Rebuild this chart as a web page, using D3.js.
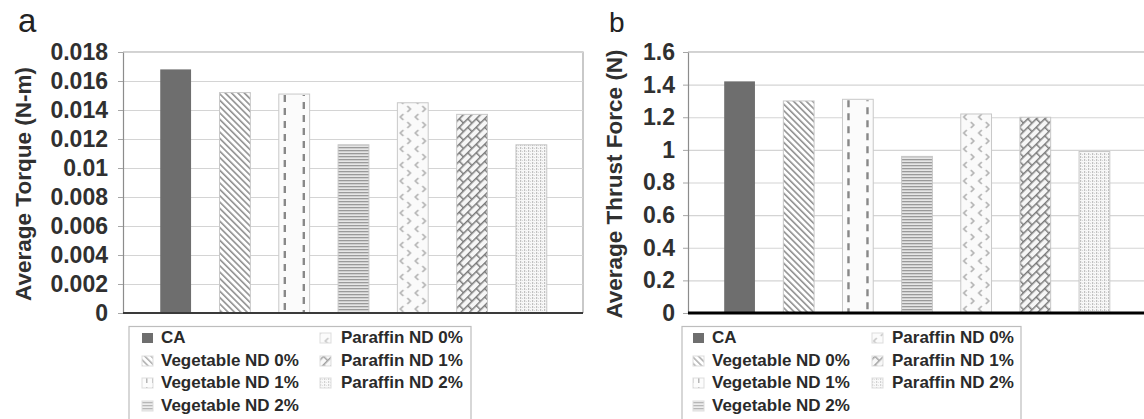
<!DOCTYPE html>
<html>
<head>
<meta charset="utf-8">
<script src="https://cdn.jsdelivr.net/npm/d3@7"></script>
<style>
  body { margin: 0; background: #fff; }
  text { font-family: "Liberation Sans", Arial, sans-serif; }
</style>
</head>
<body>
<div id="chart"></div>
<script>
// ---------------------- data ----------------------
var categories = ["CA", "Vegetable ND 0%", "Vegetable ND 1%", "Vegetable ND 2%",
                  "Paraffin ND 0%", "Paraffin ND 1%", "Paraffin ND 2%"];
var torque = [0.0168, 0.0152, 0.0151, 0.0116, 0.0145, 0.0137, 0.0116];
var thrust = [1.42, 1.30, 1.31, 0.96, 1.22, 1.20, 0.99];
var torqueTicks = [0, 0.002, 0.004, 0.006, 0.008, 0.01, 0.012, 0.014, 0.016, 0.018];
var thrustTicks = [0, 0.2, 0.4, 0.6, 0.8, 1, 1.2, 1.4, 1.6];

var svg = d3.select("#chart")
     .append("svg")
     .attr("width", 1144)
     .attr("height", 419);

var defs = svg.append("defs");

// ---------------------- fill patterns, one set per panel ----------------------
function makePatterns(id, x) {
  var p;
  // 1 diagonal lines
  p = defs.append("pattern").attr("id", id + "p1").attr("patternUnits", "userSpaceOnUse")
     .attr("width", 4.5).attr("height", 4.5).attr("patternTransform", "rotate(45)");
  p.append("rect").attr("width", 4.5).attr("height", 4.5).attr("fill", "#fff");
  p.append("line").attr("x1", 0).attr("x2", 4.5).attr("y1", 1).attr("y2", 1)
     .attr("stroke", "#808080").attr("stroke-width", 1.4);
  // 2 dashes (legend swatch only; bars get dashed lines drawn on top)
  p = defs.append("pattern").attr("id", id + "p2").attr("patternUnits", "userSpaceOnUse")
     .attr("width", 6).attr("height", 9);
  p.append("rect").attr("width", 6).attr("height", 9).attr("fill", "#fbfbfb");
  p.append("rect").attr("x", 2).attr("y", 0).attr("width", 1.5).attr("height", 5).attr("fill", "#9a9a9a");
  // 3 horizontal lines
  p = defs.append("pattern").attr("id", id + "p3").attr("patternUnits", "userSpaceOnUse")
     .attr("width", 6).attr("height", 3);
  p.append("rect").attr("width", 6).attr("height", 3).attr("fill", "#e6e6e6");
  p.append("rect").attr("y", 0).attr("width", 6).attr("height", 1.3).attr("fill", "#9a9a9a");
  // 4 chevrons
  p = defs.append("pattern").attr("id", id + "p4").attr("patternUnits", "userSpaceOnUse")
     .attr("x", x(4)).attr("width", 15).attr("height", 16);
  p.append("rect").attr("width", 15).attr("height", 16).attr("fill", "#fafafa");
  p.append("path").attr("d", "M6,2 L3,5 L6,8 M10,10 L13,13 L10,16 M10,-6 L13,-3 L10,0")
     .attr("fill", "none").attr("stroke", "#b0b0b0").attr("stroke-width", 1.6);
  // 5 diagonal brick / weave
  p = defs.append("pattern").attr("id", id + "p5").attr("patternUnits", "userSpaceOnUse")
     .attr("width", 12).attr("height", 12).attr("patternTransform", "rotate(-45)");
  p.append("rect").attr("width", 12).attr("height", 12).attr("fill", "#f6f6f6");
  p.append("path").attr("d", "M0,0.7 H12 M0,6.7 H12 M0.7,0.7 V6.7 M6.7,6.7 V12")
     .attr("fill", "none").attr("stroke", "#7a7a7a").attr("stroke-width", 1.5);
  // 6 dotted grid
  p = defs.append("pattern").attr("id", id + "p6").attr("patternUnits", "userSpaceOnUse")
     .attr("width", 4).attr("height", 3);
  p.append("rect").attr("width", 4).attr("height", 3).attr("fill", "#f7f7f7");
  p.append("rect").attr("x", 0).attr("y", 0).attr("width", 1.2).attr("height", 2).attr("fill", "#c0c0c0");
  p.append("rect").attr("x", 2).attr("y", 1).attr("width", 1).attr("height", 1).attr("fill", "#d6d6d6");

  return ["#6e6e6e", "url(#" + id + "p1)", "url(#" + id + "p2)", "url(#" + id + "p3)",
          "url(#" + id + "p4)", "url(#" + id + "p5)", "url(#" + id + "p6)"];
}

// ---------------------- one panel ----------------------
function drawPanel(o) {
  var g = svg.append("g");

  var y = d3.scaleLinear().domain([0, o.max]).range([313, 52]);
  var x = d3.scaleBand().domain(categories).range(o.band).paddingInner(0.48).paddingOuter(0.24);
  var fills = makePatterns(o.id, function(i) { return x(categories[i]); });

  // frame (top and right)
  g.append("path")
     .attr("d", "M" + o.left + ",52 H" + o.right + " V313")
     .attr("fill", "none").attr("stroke", "#a6a6a6").attr("stroke-width", 1.2);

  // grid lines
  g.append("g")
     .attr("transform", "translate(" + o.left + ",0)")
     .call(d3.axisLeft(y).tickValues(o.ticks).tickSize(-(o.right - o.left)).tickFormat(""))
     .call(function(s) {
       s.select(".domain").remove();
       s.selectAll("line").attr("stroke", "#d4d4d4").attr("stroke-width", 1.2);
     });

  // y axis with labels
  g.append("g")
     .attr("transform", "translate(" + o.left + ",0)")
     .call(d3.axisLeft(y).tickValues(o.ticks).tickSizeInner(5).tickSizeOuter(0)
            .tickPadding(o.pad).tickFormat(o.fmt))
     .call(function(s) {
       s.select(".domain").attr("stroke", "#8c8c8c").attr("stroke-width", 1.2);
       s.selectAll("line").attr("stroke", "#a6a6a6");
       s.selectAll("text")
         .style("font-family", "'Liberation Sans', Arial, sans-serif")
         .style("font-size", "23px").style("font-weight", "bold").attr("fill", "#303030");
     });

  // bars
  g.selectAll("rect.bar")
     .data(o.values)
     .enter()
     .append("rect")
     .attr("class", "bar")
     .attr("x", function(d, i) { return x(categories[i]); })
     .attr("y", function(d) { return y(d); })
     .attr("width", x.bandwidth())
     .attr("height", function(d) { return y(0) - y(d); })
     .attr("fill", function(d, i) { return i === 2 ? "#fbfbfb" : fills[i]; })
     .attr("stroke", function(d, i) { return i === 0 ? "none" : "#c8c8c8"; })
     .attr("stroke-width", 1);

  // two dashed columns on the "Vegetable ND 1%" bar
  var v = o.values[2], bx = x(categories[2]);
  [[6, 0], [25, 6]].forEach(function(c) {
    g.append("line")
       .attr("x1", bx + c[0]).attr("x2", bx + c[0])
       .attr("y1", y(v) + 1).attr("y2", y(0))
       .attr("stroke", "#888").attr("stroke-width", 2.4)
       .attr("stroke-dasharray", "7,6").attr("stroke-dashoffset", c[1]);
  });

  // baseline
  g.append("line")
     .attr("x1", o.left).attr("x2", o.baseEnd)
     .attr("y1", y(0)).attr("y2", y(0))
     .attr("stroke", o.baseColor).attr("stroke-width", o.baseWidth);

  // axis title
  g.append("text")
     .attr("transform", "translate(" + o.titleX + ",184) rotate(-90)")
     .attr("text-anchor", "middle")
     .attr("dy", "0.35em")
     .style("font-size", "22.5px").style("font-weight", "bold")
     .attr("fill", "#303030")
     .text(o.title);

  // panel letter
  g.append("text")
     .attr("x", o.letterX).attr("y", 32)
     .style("font-size", o.letterSize + "px")
     .attr("fill", "#222")
     .text(o.letter);

  // legend
  var lg = g.append("g");
  lg.append("rect")
     .attr("x", o.legX).attr("y", 326.5)
     .attr("width", o.legW).attr("height", 110)
     .attr("fill", "#fff").attr("stroke", "#bdbdbd").attr("stroke-width", 1.2);

  var rowsY = [343, 366, 388, 411];
  categories.forEach(function(c, i) {
    var col = i < 4 ? 0 : 1;
    var row = i < 4 ? i : i - 4;
    var sx = o.legX + (col === 0 ? o.sw1 : o.sw2);
    lg.append("rect")
       .attr("x", sx).attr("y", rowsY[row] - 10)
       .attr("width", 11).attr("height", 10)
       .attr("fill", fills[i])
       .attr("opacity", i === 0 ? 1 : 0.7)
       .attr("stroke", i === 0 ? "none" : "#cfcfcf");
    lg.append("text")
       .attr("x", sx + (col === 0 ? o.tx1 : o.tx2)).attr("y", rowsY[row])
       .style("font-size", "17px").style("font-weight", "bold")
       .attr("fill", "#2a2a2a")
       .text(c);
  });
}

// ---------------------- panel a: torque ----------------------
drawPanel({
  id: "a", values: torque, ticks: torqueTicks, max: 0.018,
  fmt: function(d) { return String(+d.toFixed(3)); },
  left: 123, right: 583, band: [146, 561], pad: 10,
  baseEnd: 583, baseColor: "#3a3a3a", baseWidth: 2,
  title: "Average Torque (N-m)", titleX: 23,
  letter: "a", letterX: 18, letterSize: 33,
  legX: 129, legW: 342, sw1: 13, sw2: 191, tx1: 19, tx2: 21
});

// ---------------------- panel b: thrust force ----------------------
drawPanel({
  id: "b", values: thrust, ticks: thrustTicks, max: 1.6,
  fmt: function(d) { return String(+d.toFixed(1)); },
  left: 688, right: 1150, band: [710, 1124], pad: 8,
  baseEnd: 1144, baseColor: "#000", baseWidth: 3,
  title: "Average Thrust Force (N)", titleX: 614,
  letter: "b", letterX: 609, letterSize: 28,
  legX: 682, legW: 339, sw1: 11, sw2: 190, tx1: 19, tx2: 20
});
</script>
</body>
</html>
